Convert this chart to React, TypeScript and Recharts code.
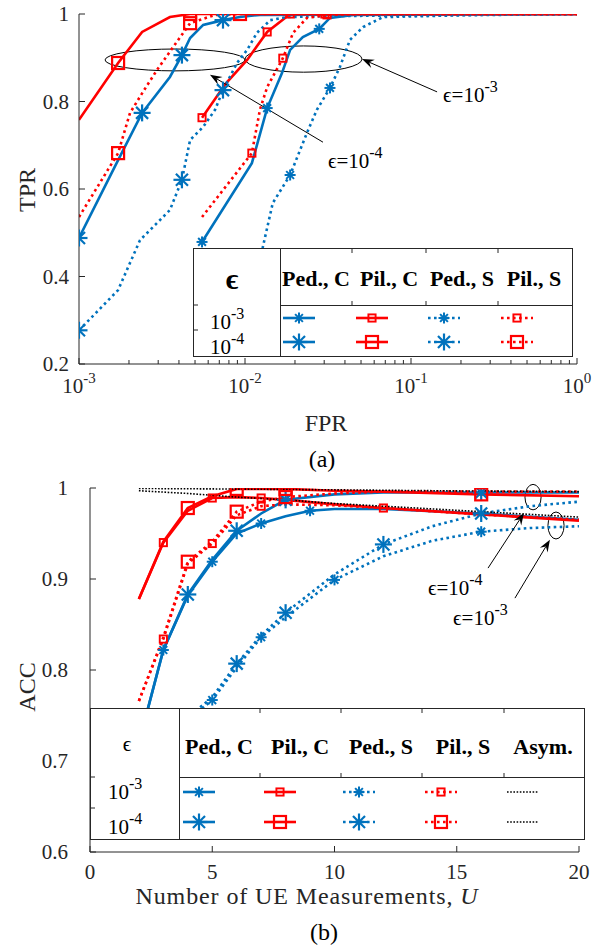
import React from 'react';
import { LineChart, Line, XAxis, YAxis, ReferenceArea, ReferenceLine, ReferenceDot } from 'recharts';

const BLUE = '#0072BD';
const RED = '#FF0000';
const AX = '#262626';
const FONT = '"Liberation Serif", "Times New Roman", "DejaVu Serif", serif';

// ---------- (a) ROC: FPR (x) vs TPR (y) ----------
const rocPedC3X = [0.00551, 0.011, 0.0136, 0.0167, 0.0187, 0.0223, 0.028, 0.0325, 0.045, 1];
const rocPedC3Y = [0.479, 0.659, 0.785, 0.865, 0.918, 0.947, 0.966, 0.991, 0.998, 1];
const rocPedC3M = [0, 2, 6];
const rocPedC4X = [0.001, 0.00172, 0.0024, 0.00353, 0.00417, 0.00467, 0.0056, 0.00737, 0.0093, 0.0123, 1];
const rocPedC4Y = [0.488, 0.666, 0.774, 0.856, 0.906, 0.945, 0.975, 0.986, 0.993, 0.998, 1];
const rocPedC4M = [0, 2, 4, 7];
const rocPilC3X = [0.00551, 0.0077, 0.0103, 0.0136, 0.0187, 0.0303, 1];
const rocPilC3Y = [0.763, 0.842, 0.895, 0.959, 1, 1, 1];
const rocPilC3M = [0, 3, 4, 5];
const rocPilC4X = [0.001, 0.00172, 0.0024, 0.00353, 0.00467, 0.00933, 1];
const rocPilC4Y = [0.758, 0.888, 0.959, 0.993, 1, 1, 1];
const rocPilC4M = [1, 4, 5];
const rocPedS3X = [0.0115, 0.0128, 0.0147, 0.0187, 0.0236, 0.0271, 0.0325, 0.0373, 0.0429, 0.0514, 0.0678, 0.2, 1];
const rocPedS3Y = [0.3, 0.467, 0.568, 0.632, 0.728, 0.781, 0.831, 0.879, 0.941, 0.97, 0.993, 0.997, 1];
const rocPedS3M = [3, 6];
const rocPedS4X = [0.001, 0.00172, 0.00233, 0.00353, 0.00417, 0.00467, 0.0056, 0.0066, 0.00737, 0.00895, 0.0103, 0.0118, 0.0142, 0.018, 0.031, 0.1, 1];
const rocPedS4Y = [0.277, 0.369, 0.483, 0.552, 0.621, 0.712, 0.742, 0.781, 0.826, 0.888, 0.918, 0.957, 0.986, 0.993, 0.995, 0.997, 1];
const rocPedS4M = [0, 4, 8];
const rocPilS3X = [0.00551, 0.011, 0.0123, 0.0136, 0.0169, 0.0195, 0.0236, 0.0312, 0.05, 1];
const rocPilS3Y = [0.536, 0.682, 0.781, 0.833, 0.899, 0.957, 0.991, 0.998, 1, 1];
const rocPilS3M = [1, 4, 7];
const rocPilS4X = [0.001, 0.00172, 0.00203, 0.00243, 0.00295, 0.0037, 0.00467, 0.0066, 0.0093, 1];
const rocPilS4Y = [0.536, 0.682, 0.774, 0.822, 0.872, 0.925, 0.979, 0.998, 1, 1];
const rocPilS4M = [1, 6];

const fprTicks = [0.001, 0.002, 0.003, 0.004, 0.005, 0.006, 0.007, 0.008, 0.009, 0.01, 0.02, 0.03, 0.04, 0.05, 0.06, 0.07, 0.08, 0.09, 0.1, 0.2, 0.3, 0.4, 0.5, 0.6, 0.7, 0.8, 0.9, 1];
const tprTicks = [0.2, 0.4, 0.6, 0.8, 1];

// ---------- (b) ACC vs number of UE measurements U ----------
const accPedC3U = [2, 3, 4, 5, 6, 7, 8, 9, 10, 12, 16, 20];
const accPedC3 = [0.72, 0.822, 0.882, 0.919, 0.95, 0.961, 0.969, 0.975, 0.977, 0.977, 0.972, 0.965];
const accPedC3M = [1, 3, 5, 7];
const accPedC4U = [2, 3, 4, 5, 6, 7, 8, 10, 12, 16, 20];
const accPedC4 = [0.72, 0.822, 0.883, 0.921, 0.953, 0.972, 0.987, 0.993, 0.995, 0.995, 0.995];
const accPedC4M = [2, 4, 6, 9];
const accPilC3U = [2, 3, 4, 5, 6, 7, 8, 10, 12, 16, 20];
const accPilC3 = [0.878, 0.94, 0.975, 0.989, 0.99, 0.989, 0.987, 0.982, 0.978, 0.971, 0.964];
const accPilC3M = [1, 3, 5, 8];
const accPilC4U = [2, 3, 4, 5, 6, 7, 8, 10, 12, 16, 20];
const accPilC4 = [0.878, 0.941, 0.978, 0.991, 0.999, 0.999, 0.999, 0.997, 0.996, 0.993, 0.991];
const accPilC4M = [2, 4, 6, 9];
const accPedS3U = [3, 4, 5, 6, 7, 8, 10, 12, 14, 16, 18, 20];
const accPedS3 = [0.7, 0.745, 0.767, 0.803, 0.836, 0.858, 0.899, 0.925, 0.942, 0.952, 0.956, 0.958];
const accPedS3M = [2, 4, 6, 9];
const accPedS4U = [3, 4, 5, 6, 7, 8, 10, 12, 14, 16, 18, 20];
const accPedS4 = [0.7, 0.748, 0.77, 0.807, 0.838, 0.863, 0.905, 0.938, 0.958, 0.972, 0.98, 0.985];
const accPedS4M = [3, 5, 7, 9];
const accPilS3U = [2, 3, 4, 5, 6, 7, 8, 10, 12, 16, 20];
const accPilS3 = [0.766, 0.834, 0.917, 0.939, 0.97, 0.98, 0.982, 0.981, 0.978, 0.971, 0.965];
const accPilS3M = [1, 3, 5];
const accPilS4U = [2, 3, 4, 5, 6, 7, 8, 10, 12, 16, 20];
const accPilS4 = [0.766, 0.836, 0.919, 0.941, 0.974, 0.985, 0.99, 0.994, 0.996, 0.996, 0.996];
const accPilS4M = [2, 4, 6];
const accAsym3U = [2, 4, 6, 8, 10, 12, 14, 16, 18, 20];
const accAsym3 = [0.997, 0.994, 0.99, 0.987, 0.983, 0.98, 0.977, 0.974, 0.971, 0.968];
const accAsym4U = [2, 5, 10, 15, 20];
const accAsym4 = [0.9995, 0.999, 0.998, 0.9968, 0.996];

const uTicks = [0, 5, 10, 15, 20];
const accTicks = [0.6, 0.7, 0.8, 0.9, 1];

const legendHeadersA = ['Ped., C', 'Pil., C', 'Ped., S', 'Pil., S'];
const legendHeadersB = ['Ped., C', 'Pil., C', 'Ped., S', 'Pil., S', 'Asym.'];
const epsRows = ['-3', '-4'];

type Pt = { x: number; y: number; m: boolean };
const build = (xs: number[], ys: number[], ms: number[]): Pt[] =>
  xs.map((x, i) => ({ x, y: ys[i], m: ms.includes(i) }));

type Spec = { data: Pt[]; color: string; dotted: boolean; kind: 'ast' | 'sq' | 'none'; big: boolean; asym?: boolean };

const topSeries: Spec[] = [
  { data: build(rocPedC3X, rocPedC3Y, rocPedC3M), color: BLUE, dotted: false, kind: 'ast', big: false },
  { data: build(rocPedC4X, rocPedC4Y, rocPedC4M), color: BLUE, dotted: false, kind: 'ast', big: true },
  { data: build(rocPilC3X, rocPilC3Y, rocPilC3M), color: RED, dotted: false, kind: 'sq', big: false },
  { data: build(rocPilC4X, rocPilC4Y, rocPilC4M), color: RED, dotted: false, kind: 'sq', big: true },
  { data: build(rocPedS3X, rocPedS3Y, rocPedS3M), color: BLUE, dotted: true, kind: 'ast', big: false },
  { data: build(rocPedS4X, rocPedS4Y, rocPedS4M), color: BLUE, dotted: true, kind: 'ast', big: true },
  { data: build(rocPilS3X, rocPilS3Y, rocPilS3M), color: RED, dotted: true, kind: 'sq', big: false },
  { data: build(rocPilS4X, rocPilS4Y, rocPilS4M), color: RED, dotted: true, kind: 'sq', big: true },
];

const bottomSeries: Spec[] = [
  { data: build(accPedC3U, accPedC3, accPedC3M), color: BLUE, dotted: false, kind: 'ast', big: false },
  { data: build(accPedC4U, accPedC4, accPedC4M), color: BLUE, dotted: false, kind: 'ast', big: true },
  { data: build(accPilC3U, accPilC3, accPilC3M), color: RED, dotted: false, kind: 'sq', big: false },
  { data: build(accPilC4U, accPilC4, accPilC4M), color: RED, dotted: false, kind: 'sq', big: true },
  { data: build(accPedS3U, accPedS3, accPedS3M), color: BLUE, dotted: true, kind: 'ast', big: false },
  { data: build(accPedS4U, accPedS4, accPedS4M), color: BLUE, dotted: true, kind: 'ast', big: true },
  { data: build(accPilS3U, accPilS3, accPilS3M), color: RED, dotted: true, kind: 'sq', big: false },
  { data: build(accPilS4U, accPilS4, accPilS4M), color: RED, dotted: true, kind: 'sq', big: true },
  { data: build(accAsym3U, accAsym3, []), color: '#000', dotted: true, kind: 'none', big: false, asym: true },
  { data: build(accAsym4U, accAsym4, []), color: '#000', dotted: true, kind: 'none', big: false, asym: true },
];

const Marker = ({ kind, big, color, cx, cy }: any) => {
  if (kind === 'sq') {
    const h = big ? 6 : 3.6;
    return <rect x={cx - h} y={cy - h} width={2 * h} height={2 * h} fill="none" stroke={color} strokeWidth={big ? 2.2 : 1.9} />;
  }
  if (kind === 'ast') {
    const r = big ? 8.5 : 5.5;
    const d = r * 0.7071;
    return (
      <g stroke={color} strokeWidth={big ? 2.2 : 2}>
        <line x1={cx - r} y1={cy} x2={cx + r} y2={cy} />
        <line x1={cx} y1={cy - r} x2={cx} y2={cy + r} />
        <line x1={cx - d} y1={cy - d} x2={cx + d} y2={cy + d} />
        <line x1={cx - d} y1={cy + d} x2={cx + d} y2={cy - d} />
      </g>
    );
  }
  return <g />;
};

const dotFn = (s: Spec) => (p: any) => {
  const k = `d${p.index}`;
  if (!p.payload || !p.payload.m || p.cx == null) return <g key={k} />;
  return <g key={k}><Marker kind={s.kind} big={s.big} color={s.color} cx={p.cx} cy={p.cy} /></g>;
};

const lineProps = (s: Spec) => ({
  stroke: s.color,
  strokeWidth: s.asym ? 1.6 : 2.6,
  strokeDasharray: s.dotted ? (s.asym ? '1.6 1.6' : '2.6 3.4') : undefined,
});

const TopXTick = (p: any) => {
  const { x, y, payload } = p;
  const v = payload.value;
  const lg = Math.log10(v);
  const e = Math.round(lg);
  const major = Math.abs(lg - e) < 1e-6;
  return (
    <g>
      <line x1={x} y1={y} x2={x} y2={y - (major ? 6 : 4)} stroke={AX} strokeWidth={1} />
      {major && (
        <text x={x} y={y + 29} textAnchor="middle" fontFamily={FONT} fontSize={21} fill={AX}>
          10<tspan dy={-10} fontSize={15}>{String(e)}</tspan>
        </text>
      )}
    </g>
  );
};

const BottomXTick = (p: any) => {
  const { x, y, payload } = p;
  return (
    <g>
      <line x1={x} y1={y} x2={x} y2={y - 6} stroke={AX} strokeWidth={1} />
      <text x={x} y={y + 27} textAnchor="middle" fontFamily={FONT} fontSize={21} fill={AX}>{String(payload.value)}</text>
    </g>
  );
};

const makeYTick = (gap: number) => (p: any) => {
  const { x, y, payload } = p;
  return (
    <g>
      <line x1={x} y1={y} x2={x + 6} y2={y} stroke={AX} strokeWidth={1} />
      <text x={x - gap} y={y} dy="0.34em" textAnchor="end" fontFamily={FONT} fontSize={21} fill={AX}>{String(payload.value)}</text>
    </g>
  );
};

const ellipseShape = (p: any) => (
  <ellipse cx={p.x + p.width / 2} cy={p.y + p.height / 2} rx={Math.abs(p.width) / 2} ry={Math.abs(p.height) / 2} fill="none" stroke="#000" strokeWidth={1} />
);

const arrowShape = (p: any) => {
  const { x1, y1, x2, y2 } = p;
  const dx = x2 - x1;
  const dy = y2 - y1;
  const L = Math.hypot(dx, dy) || 1;
  const ux = dx / L;
  const uy = dy / L;
  const hl = 12;
  const hw = 4.5;
  const bx = x2 - ux * hl;
  const by = y2 - uy * hl;
  const nx = -uy;
  const ny = ux;
  const nxp = x2 - ux * hl * 0.65;
  const nyp = y2 - uy * hl * 0.65;
  const pts = `${x2},${y2} ${bx + nx * hw},${by + ny * hw} ${nxp},${nyp} ${bx - nx * hw},${by - ny * hw}`;
  return (
    <g>
      <line x1={x1} y1={y1} x2={nxp} y2={nyp} stroke="#000" strokeWidth={1} />
      <polygon points={pts} fill="#000" />
    </g>
  );
};

const epsLabel = (exp: string) => (p: any) => (
  <text x={p.cx} y={p.cy} fontFamily={FONT} fontSize={21} fill="#000">
    ϵ=10<tspan dy={-10} fontSize={16}>{exp}</tspan>
  </text>
);

const Sample = ({ cx, cy, s }: { cx: number; cy: number; s: Spec }) => (
  <g>
    <line x1={cx - 16} y1={cy} x2={cx + 16} y2={cy} {...lineProps(s)} />
    <Marker kind={s.kind} big={s.big} color={s.color} cx={cx} cy={cy} />
  </g>
);

const Overlay = () => {
  const tColsX = [316, 389, 462, 534];
  const tSampX = [299, 372, 444, 517];
  const tRowY = [318, 342];
  const bColsX = [219, 300, 381, 463, 543];
  const bSampX = [199, 280, 359, 441, 523];
  const bRowY = [792, 822];
  const tKinds = [0, 2, 4, 6];
  return (
    <svg width={602} height={945} style={{ position: 'absolute', left: 0, top: 0, pointerEvents: 'none' }}>
      {/* axis titles */}
      <text x={0} y={0} transform="translate(35,190) rotate(-90)" textAnchor="middle" fontFamily={FONT} fontSize={24} fill={AX}>TPR</text>
      <text x={326} y={431} textAnchor="middle" fontFamily={FONT} fontSize={24} fill={AX}>FPR</text>
      <text x={322} y={467} textAnchor="middle" fontFamily={FONT} fontSize={24} fill="#000">(a)</text>
      <text x={0} y={0} transform="translate(35,687) rotate(-90)" textAnchor="middle" fontFamily={FONT} fontSize={24} fill={AX}>ACC</text>
      <text x={307} y={904} textAnchor="middle" fontFamily={FONT} fontSize={24} letterSpacing={0.9} fill={AX}>
        Number of UE Measurements, <tspan fontStyle="italic">U</tspan>
      </text>
      <text x={324} y={940} textAnchor="middle" fontFamily={FONT} fontSize={24} fill="#000">(b)</text>

      {/* legend (a) */}
      <rect x={193.5} y={248.5} width={379} height={108} fill="#fff" stroke={AX} strokeWidth={1} />
      <line x1={280.5} y1={248} x2={280.5} y2={357} stroke={AX} />
      <line x1={280} y1={305.5} x2={572} y2={305.5} stroke={AX} />
      {[352, 426, 498].map((x) => (
        <g key={x}>
          <line x1={x} y1={249} x2={x} y2={253} stroke={AX} />
          <line x1={x} y1={305} x2={x} y2={301} stroke={AX} />
        </g>
      ))}
      {[305, 330].map((y) => <line key={y} x1={194} y1={y} x2={198} y2={y} stroke={AX} />)}
      <text x={232} y={289} textAnchor="middle" fontFamily={FONT} fontSize={30} fontWeight="bold" fill="#000">ϵ</text>
      {legendHeadersA.map((h, i) => (
        <text key={h} x={tColsX[i]} y={286} textAnchor="middle" fontFamily={FONT} fontSize={22} fontWeight="bold" fill="#000">{h}</text>
      ))}
      {epsRows.map((e, r) => (
        <text key={e} x={210} y={[329, 354][r]} fontFamily={FONT} fontSize={21} fill="#000">
          10<tspan dy={-10} fontSize={16}>{e}</tspan>
        </text>
      ))}
      {tRowY.map((y, r) =>
        tSampX.map((x, c) => <Sample key={`${r}-${c}`} cx={x} cy={y} s={topSeries[tKinds[c] + r]} />)
      )}

      {/* legend (b) */}
      <rect x={90.5} y={708.5} width={494} height={131} fill="#fff" stroke={AX} strokeWidth={1} />
      <line x1={179.5} y1={708} x2={179.5} y2={840} stroke={AX} />
      <line x1={179} y1={777.5} x2={584} y2={777.5} stroke={AX} />
      {[260, 341, 422, 504].map((x) => (
        <g key={x}>
          <line x1={x} y1={709} x2={x} y2={713} stroke={AX} />
          <line x1={x} y1={777} x2={x} y2={773} stroke={AX} />
        </g>
      ))}
      {[777, 808].map((y) => <line key={y} x1={91} y1={y} x2={95} y2={y} stroke={AX} />)}
      <text x={127} y={751} textAnchor="middle" fontFamily={FONT} fontSize={21} fill="#000">ϵ</text>
      {legendHeadersB.map((h, i) => (
        <text key={h} x={bColsX[i]} y={754} textAnchor="middle" fontFamily={FONT} fontSize={22} fontWeight="bold" fill="#000">{h}</text>
      ))}
      {epsRows.map((e, r) => (
        <text key={e} x={108} y={[799, 834][r]} fontFamily={FONT} fontSize={21} fill="#000">
          10<tspan dy={-10} fontSize={16}>{e}</tspan>
        </text>
      ))}
      {bRowY.map((y, r) =>
        bSampX.map((x, c) => (
          <Sample key={`b${r}-${c}`} cx={x} cy={y} s={bottomSeries[c * 2 + r]} />
        ))
      )}
    </svg>
  );
};

export default function App() {
  return (
    <div style={{ position: 'absolute', left: 0, top: 0, width: 602, height: 945, background: '#fff', overflow: 'hidden' }}>
      <div style={{ position: 'absolute', left: 0, top: 0 }}>
        <LineChart width={602} height={470} margin={{ top: 14, right: 25, bottom: 56, left: 0 }}>
          <XAxis dataKey="x" type="number" scale="log" domain={[0.001, 1]} allowDataOverflow ticks={fprTicks} interval={0}
            tickSize={0} tickMargin={0} tickLine={false} tick={TopXTick} height={50} axisLine={{ stroke: AX }} />
          <YAxis dataKey="y" type="number" domain={[0.2, 1]} allowDataOverflow ticks={tprTicks} interval={0}
            tickSize={0} tickMargin={0} tickLine={false} tick={makeYTick(10)} width={79} axisLine={{ stroke: AX }} />
          {topSeries.map((s, i) => (
            <Line key={i} data={s.data} dataKey="y" type="linear" {...lineProps(s)} dot={dotFn(s)} activeDot={false}
              isAnimationActive={false} legendType="none" />
          ))}
          <ReferenceArea x1={0.001435} x2={0.01} y1={0.87} y2={0.92} shape={ellipseShape} />
          <ReferenceArea x1={0.01} x2={0.0507} y1={0.867} y2={0.927} shape={ellipseShape} />
          <ReferenceLine segment={[{ x: 0.1436, y: 0.822 }, { x: 0.0507, y: 0.897 }]} shape={arrowShape} />
          <ReferenceLine segment={[{ x: 0.0295, y: 0.707 }, { x: 0.00615, y: 0.861 }]} shape={arrowShape} />
          <ReferenceDot x={0.156} y={0.799} shape={epsLabel('-3')} />
          <ReferenceDot x={0.0316} y={0.648} shape={epsLabel('-4')} />
        </LineChart>
      </div>
      <div style={{ position: 'absolute', left: 0, top: 470 }}>
        <LineChart width={602} height={475} margin={{ top: 18, right: 23, bottom: 43, left: 0 }}>
          <XAxis dataKey="x" type="number" domain={[0, 20]} allowDataOverflow ticks={uTicks} interval={0}
            tickSize={0} tickMargin={0} tickLine={false} tick={BottomXTick} height={50} axisLine={{ stroke: AX }} />
          <YAxis dataKey="y" type="number" domain={[0.6, 1]} allowDataOverflow ticks={accTicks} interval={0}
            tickSize={0} tickMargin={0} tickLine={false} tick={makeYTick(22)} width={90} axisLine={{ stroke: AX }} />
          {bottomSeries.map((s, i) => (
            <Line key={i} data={s.data} dataKey="y" type="linear" {...lineProps(s)} dot={dotFn(s)} activeDot={false}
              isAnimationActive={false} legendType="none" />
          ))}
          <ReferenceArea x1={17.79} x2={18.45} y1={0.976} y2={1.004} ifOverflow="visible" shape={ellipseShape} />
          <ReferenceArea x1={18.73} x2={19.39} y1={0.944} y2={0.9736} shape={ellipseShape} />
          <ReferenceLine segment={[{ x: 16.28, y: 0.912 }, { x: 17.75, y: 0.9725 }]} shape={arrowShape} />
          <ReferenceLine segment={[{ x: 17.38, y: 0.879 }, { x: 18.81, y: 0.943 }]} shape={arrowShape} />
          <ReferenceDot x={13.82} y={0.882} shape={epsLabel('-4')} />
          <ReferenceDot x={14.85} y={0.849} shape={epsLabel('-3')} />
        </LineChart>
      </div>
      <Overlay />
    </div>
  );
}
